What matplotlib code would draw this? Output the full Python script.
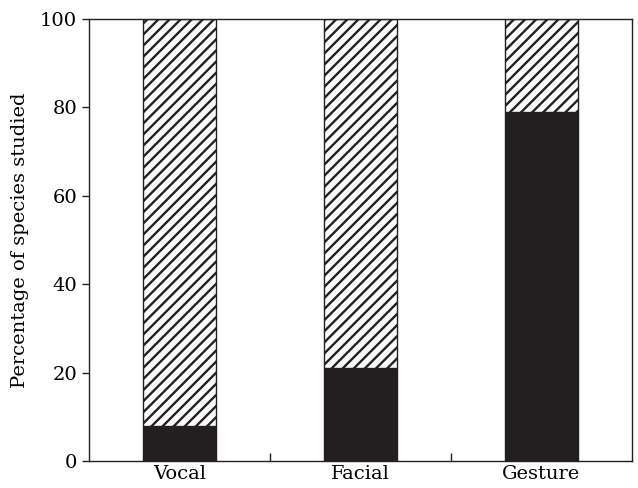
import numpy as np
import matplotlib.pyplot as plt

plt.rcParams['font.family'] = 'DejaVu Serif'
plt.rcParams['hatch.linewidth'] = 1.7

categorias = ['Vocal', 'Facial', 'Gesture']
estudados = [8, 21, 79]
total = [100, 100, 100]

cor_escura = '#231f20'

fig = plt.figure(figsize=(6.38, 4.88), dpi=100)
ax = fig.add_axes([0.1395, 0.0553, 0.851, 0.906])

x = np.arange(len(categorias))
resto = [t - e for t, e in zip(total, estudados)]
ax.bar(x, estudados, width=0.4, color=cor_escura, edgecolor=cor_escura, linewidth=1)
ax.bar(x, resto, bottom=estudados, width=0.4, color='white', edgecolor=cor_escura,
       hatch='///', linewidth=1)

ax.set_xlim(-0.5, 2.5)
ax.set_ylim(0, 100)
ax.set_yticks([0, 20, 40, 60, 80, 100])
ax.set_xticks(x)
ax.set_xticklabels(categorias)
ax.set_xticks([0.5, 1.5], minor=True)
ax.tick_params(axis='x', which='major', length=0, labelsize=14, pad=3)
ax.tick_params(axis='x', which='minor', direction='in', length=6, width=1, color=cor_escura)
ax.tick_params(axis='y', direction='out', length=5, width=1, labelsize=14, color=cor_escura)
ax.set_ylabel('Percentage of species studied', fontsize=14, labelpad=8)

for s in ax.spines.values():
    s.set_linewidth(1)
    s.set_color(cor_escura)

fig.savefig('out.png', dpi=100)
